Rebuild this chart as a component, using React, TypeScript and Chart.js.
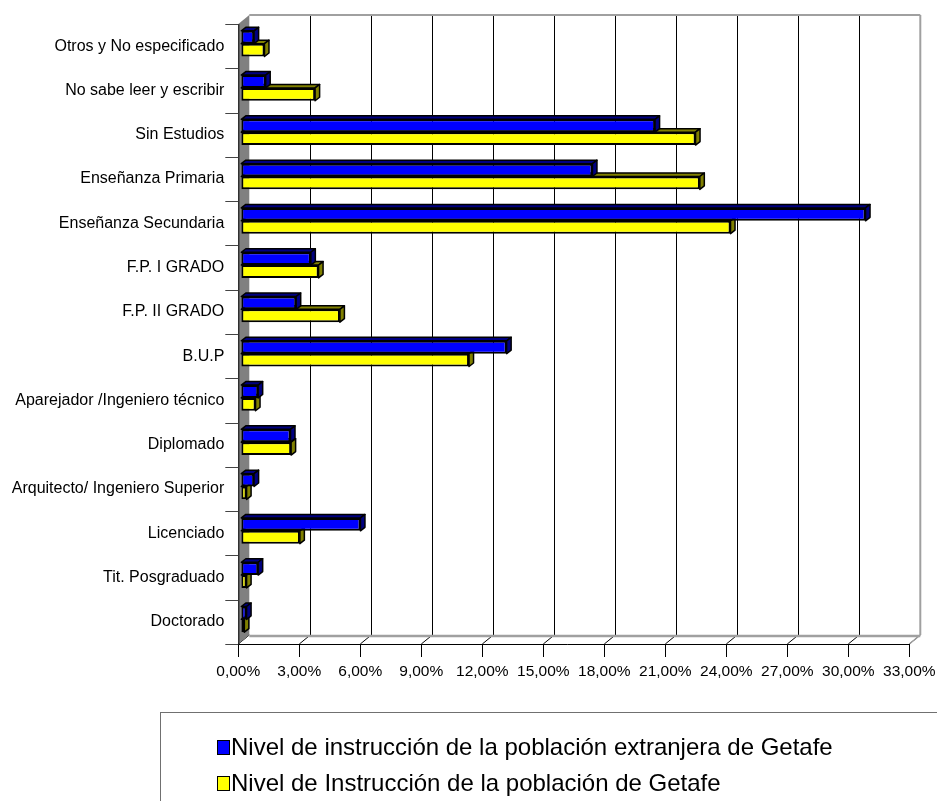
import React, { useEffect, useRef } from "react";
import { Chart, registerables } from "chart.js";

Chart.register(...registerables);

const categories = [
  "Otros y No especificado",
  "No sabe leer y escribir",
  "Sin Estudios",
  "Enseñanza Primaria",
  "Enseñanza Secundaria",
  "F.P. I GRADO",
  "F.P. II GRADO",
  "B.U.P",
  "Aparejador /Ingeniero técnico",
  "Diplomado",
  "Arquitecto/ Ingeniero Superior",
  "Licenciado",
  "Tit. Posgraduado",
  "Doctorado",
];

const extranjera = [0.63, 1.2, 20.35, 17.27, 30.7, 3.42, 2.7, 13.05, 0.83, 2.42, 0.63, 5.86, 0.83, 0.26];
const getafe = [1.14, 3.63, 22.34, 22.55, 24.06, 3.8, 4.85, 11.2, 0.7, 2.45, 0.26, 2.88, 0.26, 0.15];

const seriesNames = [
  "Nivel de instrucción de la población extranjera de Getafe",
  "Nivel de Instrucción de la población de Getafe",
];

const xMin = 0;
const xMax = 33;
const xStep = 3;

const FONT = "'Liberation Sans', Arial, sans-serif";

// 3D look offsets
const DX = 11; // back wall shift x
const DY = 9; // back wall shift y (up)
const BX = 3; // bar plane shift x
const BY = 2.5; // bar plane shift y (up)
const FX = 4.5; // bar depth x
const FY = 3.5; // bar depth y

const faceColors = ["#000080", "#808000"];

const pseudo3d = {
  id: "pseudo3d",
  beforeDatasetsDraw(chart: any) {
    const { ctx, chartArea: a, scales } = chart;
    const x = scales.x;
    const L = x.getPixelForValue(xMin);
    const R = x.getPixelForValue(xMax);
    const T = a.top;
    const B = a.bottom;
    ctx.save();
    const line = (x1: number, y1: number, x2: number, y2: number) => {
      ctx.beginPath();
      ctx.moveTo(x1, y1);
      ctx.lineTo(x2, y2);
      ctx.stroke();
    };
    // floor
    ctx.fillStyle = "#ffffff";
    ctx.beginPath();
    ctx.moveTo(L, B);
    ctx.lineTo(L + DX, B - DY);
    ctx.lineTo(R + DX, B - DY);
    ctx.lineTo(R, B);
    ctx.closePath();
    ctx.fill();
    // back wall gridlines
    ctx.strokeStyle = "#000";
    ctx.lineWidth = 1;
    for (let v = xMin + xStep; v < xMax - 0.001; v += xStep) {
      const px = Math.round(x.getPixelForValue(v) + DX) + 0.5;
      line(px, T - DY, px, B - DY);
    }
    // floor diagonals at ticks
    for (let v = xMin; v <= xMax + 0.001; v += xStep) {
      const px = x.getPixelForValue(v);
      line(px, B, px + DX, B - DY);
    }
    // wall edges
    ctx.strokeStyle = "#a0a0a0";
    ctx.lineWidth = 2;
    line(L + DX, T - DY, R + DX, T - DY);
    line(R + DX, T - DY, R + DX, B - DY);
    ctx.lineWidth = 2.5;
    line(L + DX, B - DY + 1, R + DX, B - DY + 1);
    ctx.lineWidth = 1.5;
    line(R, B, R + DX, B - DY);
    // left wall
    ctx.fillStyle = "#808080";
    ctx.beginPath();
    ctx.moveTo(L, T);
    ctx.lineTo(L + DX, T - DY);
    ctx.lineTo(L + DX, B - DY);
    ctx.lineTo(L, B);
    ctx.closePath();
    ctx.fill();
    // front axis lines
    ctx.strokeStyle = "#000";
    ctx.lineWidth = 1;
    line(L - 12, B + 0.5, R, B + 0.5);
    line(L + 0.5, T, L + 0.5, B);
    // x tick marks
    for (let v = xMin; v <= xMax + 0.001; v += xStep) {
      const px = Math.round(x.getPixelForValue(v)) + 0.5;
      line(px, B, px, B + 13);
    }
    // y tick marks at category boundaries
    ctx.strokeStyle = "#444";
    const n = categories.length;
    for (let k = 0; k <= n; k++) {
      const py = Math.round(T + ((B - T) * k) / n) + 0.5;
      line(L - 13, py, L, py);
    }
    ctx.restore();
    ctx.save();
    ctx.translate(BX, -BY);
  },
  afterDatasetDraw(chart: any, args: any) {
    const ctx = chart.ctx;
    const meta = args.meta;
    const face = faceColors[args.index];
    meta.data.forEach((bar: any) => {
      const { x, y, base, height } = bar.getProps(["x", "y", "base", "height"], true);
      const top = y - height / 2;
      const bottom = y + height / 2;
      ctx.save();
      ctx.fillStyle = face;
      ctx.strokeStyle = "#000";
      ctx.lineWidth = 1.5;
      ctx.lineJoin = "round";
      // top face
      ctx.beginPath();
      ctx.moveTo(base, top);
      ctx.lineTo(base + FX, top - FY);
      ctx.lineTo(x + FX, top - FY);
      ctx.lineTo(x, top);
      ctx.closePath();
      ctx.fill();
      ctx.stroke();
      // side face
      ctx.beginPath();
      ctx.moveTo(x, top);
      ctx.lineTo(x + FX, top - FY);
      ctx.lineTo(x + FX, bottom - FY);
      ctx.lineTo(x, bottom);
      ctx.closePath();
      ctx.fill();
      ctx.stroke();
      ctx.restore();
    });
  },
  afterDatasetsDraw(chart: any) {
    chart.ctx.restore();
  },
};

function fmt(v: number) {
  return v.toFixed(2).replace(".", ",") + "%";
}

export default function App() {
  const ref = useRef<HTMLCanvasElement | null>(null);

  useEffect(() => {
    document.body.style.margin = "0";
    const canvas = ref.current;
    if (!canvas) return;
    const chart = new Chart(canvas, {
      type: "bar",
      data: {
        labels: categories,
        datasets: [
          {
            label: seriesNames[0],
            data: extranjera,
            backgroundColor: "#0000ff",
            borderColor: "#000",
            borderWidth: 2,
            borderSkipped: false,
          },
          {
            label: seriesNames[1],
            data: getafe,
            backgroundColor: "#ffff00",
            borderColor: "#000",
            borderWidth: 2,
            borderSkipped: false,
          },
        ],
      },
      options: {
        indexAxis: "y",
        animation: false,
        responsive: false,
        maintainAspectRatio: false,
        layout: { padding: { left: 0, right: 27.7, top: 24, bottom: 101 } },
        datasets: { bar: { categoryPercentage: 0.58, barPercentage: 1 } },
        plugins: { legend: { display: false }, tooltip: { enabled: false } },
        scales: {
          x: {
            min: xMin,
            max: xMax,
            grid: { display: false },
            border: { display: false },
            ticks: {
              stepSize: xStep,
              autoSkip: false,
              maxRotation: 0,
              padding: 10,
              color: "#000",
              font: { family: FONT, size: 15.5 },
              callback: (v: any) => fmt(Number(v)),
            },
            afterFit: (s: any) => {
              s.height = 56;
              s.paddingLeft = 0;
              s.paddingRight = 0;
            },
          },
          y: {
            grid: { display: false },
            border: { display: false },
            ticks: {
              autoSkip: false,
              padding: 6,
              color: "#000",
              font: { family: FONT, size: 16 },
            },
            afterFit: (s: any) => {
              s.width = 238.3;
              s.paddingTop = 0;
              s.paddingBottom = 0;
            },
          },
        },
      },
      plugins: [pseudo3d],
    } as any);
    return () => chart.destroy();
  }, []);

  const legendColors = ["#0000ff", "#ffff00"];

  return (
    <div style={{ position: "absolute", left: 0, top: 0, width: 937, height: 801, background: "#fff" }}>
      <canvas ref={ref} width={937} height={801} style={{ display: "block", width: 937, height: 801 }} />
      <div
        style={{
          position: "absolute",
          left: 160,
          top: 712,
          width: 777,
          height: 89,
          borderTop: "1px solid #707070",
          borderLeft: "1px solid #707070",
          boxSizing: "border-box",
        }}
      >
        {seriesNames.map((name, i) => (
          <div
            key={name}
            style={{
              position: "absolute",
              left: 56,
              top: 34 + i * 36 - 14,
              height: 28,
              display: "flex",
              alignItems: "center",
              whiteSpace: "nowrap",
              fontFamily: FONT,
              fontSize: 24,
              color: "#000",
            }}
          >
            <span
              style={{
                display: "inline-block",
                width: 11,
                height: 13,
                border: "1.5px solid #000",
                background: legendColors[i],
                marginRight: 1,
              }}
            />
            <span>{name}</span>
          </div>
        ))}
      </div>
    </div>
  );
}
